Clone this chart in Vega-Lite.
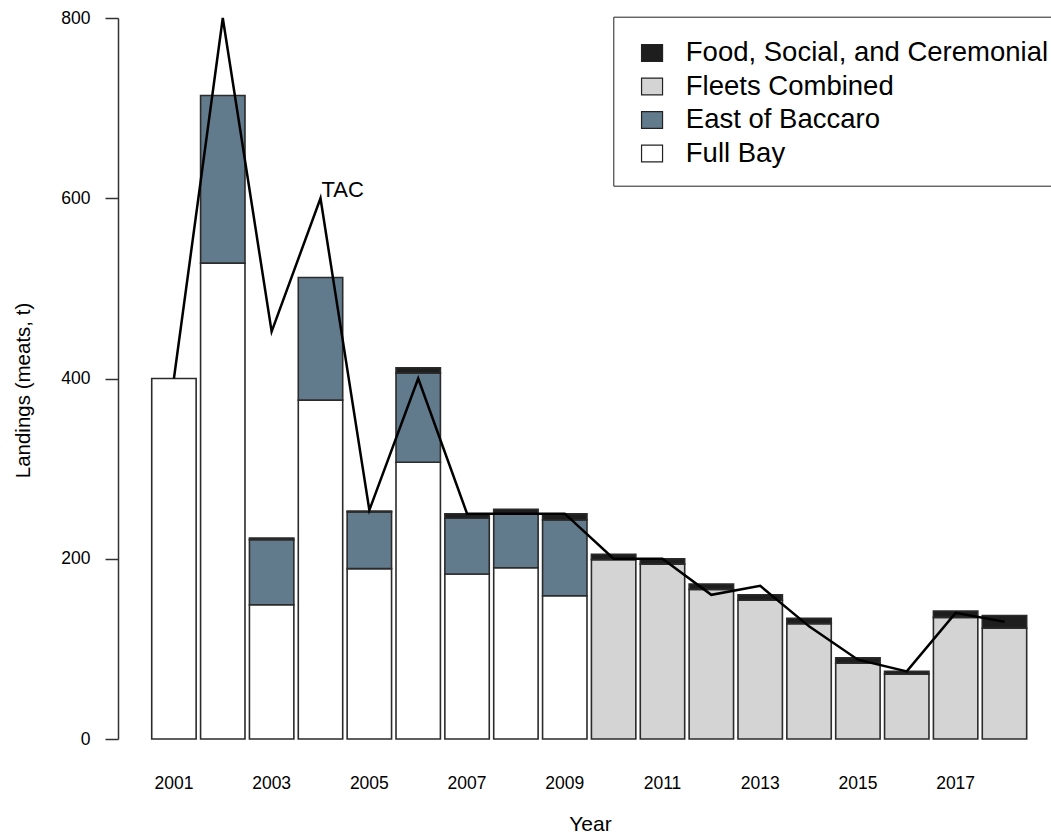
{
  "$schema": "https://vega.github.io/schema/vega-lite/v6.json",
  "width": 933,
  "height": 721,
  "autosize": {"type": "none"},
  "padding": {"left": 118, "top": 18, "right": 0, "bottom": 96},
  "background": "white",
  "config": {
    "view": {"stroke": null},
    "font": "Liberation Sans"
  },
  "datasets": {
    "landings": [
      {"year": 2001, "fishery": "Full Bay", "landings": 400},
      {"year": 2002, "fishery": "Full Bay", "landings": 528},
      {"year": 2002, "fishery": "East of Baccaro", "landings": 186},
      {"year": 2003, "fishery": "Full Bay", "landings": 149},
      {"year": 2003, "fishery": "East of Baccaro", "landings": 72},
      {"year": 2003, "fishery": "Food, Social, and Ceremonial", "landings": 2},
      {"year": 2004, "fishery": "Full Bay", "landings": 376},
      {"year": 2004, "fishery": "East of Baccaro", "landings": 136},
      {"year": 2005, "fishery": "Full Bay", "landings": 189},
      {"year": 2005, "fishery": "East of Baccaro", "landings": 63},
      {"year": 2005, "fishery": "Food, Social, and Ceremonial", "landings": 1},
      {"year": 2006, "fishery": "Full Bay", "landings": 307},
      {"year": 2006, "fishery": "East of Baccaro", "landings": 99},
      {"year": 2006, "fishery": "Food, Social, and Ceremonial", "landings": 6},
      {"year": 2007, "fishery": "Full Bay", "landings": 183},
      {"year": 2007, "fishery": "East of Baccaro", "landings": 62},
      {"year": 2007, "fishery": "Food, Social, and Ceremonial", "landings": 5},
      {"year": 2008, "fishery": "Full Bay", "landings": 190},
      {"year": 2008, "fishery": "East of Baccaro", "landings": 60},
      {"year": 2008, "fishery": "Food, Social, and Ceremonial", "landings": 5},
      {"year": 2009, "fishery": "Full Bay", "landings": 159},
      {"year": 2009, "fishery": "East of Baccaro", "landings": 84},
      {"year": 2009, "fishery": "Food, Social, and Ceremonial", "landings": 7},
      {"year": 2010, "fishery": "Fleets Combined", "landings": 199},
      {"year": 2010, "fishery": "Food, Social, and Ceremonial", "landings": 6},
      {"year": 2011, "fishery": "Fleets Combined", "landings": 194},
      {"year": 2011, "fishery": "Food, Social, and Ceremonial", "landings": 6},
      {"year": 2012, "fishery": "Fleets Combined", "landings": 166},
      {"year": 2012, "fishery": "Food, Social, and Ceremonial", "landings": 6},
      {"year": 2013, "fishery": "Fleets Combined", "landings": 154},
      {"year": 2013, "fishery": "Food, Social, and Ceremonial", "landings": 6},
      {"year": 2014, "fishery": "Fleets Combined", "landings": 128},
      {"year": 2014, "fishery": "Food, Social, and Ceremonial", "landings": 6},
      {"year": 2015, "fishery": "Fleets Combined", "landings": 84},
      {"year": 2015, "fishery": "Food, Social, and Ceremonial", "landings": 6},
      {"year": 2016, "fishery": "Fleets Combined", "landings": 72},
      {"year": 2016, "fishery": "Food, Social, and Ceremonial", "landings": 3},
      {"year": 2017, "fishery": "Fleets Combined", "landings": 135},
      {"year": 2017, "fishery": "Food, Social, and Ceremonial", "landings": 7},
      {"year": 2018, "fishery": "Fleets Combined", "landings": 123},
      {"year": 2018, "fishery": "Food, Social, and Ceremonial", "landings": 14}
    ],
    "tac": [
      {"year": 2001, "TAC": 400},
      {"year": 2002, "TAC": 800},
      {"year": 2003, "TAC": 452},
      {"year": 2004, "TAC": 600},
      {"year": 2005, "TAC": 254},
      {"year": 2006, "TAC": 400},
      {"year": 2007, "TAC": 250},
      {"year": 2008, "TAC": 250},
      {"year": 2009, "TAC": 250},
      {"year": 2010, "TAC": 200},
      {"year": 2011, "TAC": 200},
      {"year": 2012, "TAC": 160},
      {"year": 2013, "TAC": 170},
      {"year": 2014, "TAC": 125},
      {"year": 2015, "TAC": 88},
      {"year": 2016, "TAC": 75},
      {"year": 2017, "TAC": 140},
      {"year": 2018, "TAC": 130}
    ]
  },
  "layer": [
    {
      "data": {"name": "landings"},
      "transform": [
        {
          "calculate": "indexof(['Full Bay', 'East of Baccaro', 'Fleets Combined', 'Food, Social, and Ceremonial'], datum.fishery)",
          "as": "stack_rank"
        }
      ],
      "mark": {"type": "bar", "stroke": "#2b2b2b", "strokeWidth": 1.6, "opacity": 1},
      "encoding": {
        "x": {
          "field": "year",
          "type": "ordinal",
          "scale": {"paddingInner": 0.0909, "paddingOuter": 0.594, "align": 0.581},
          "axis": {
            "title": "Year",
            "values": [2001, 2003, 2005, 2007, 2009, 2011, 2013, 2015, 2017],
            "ticks": false,
            "tickSize": 0,
            "domain": false,
            "grid": false,
            "labelAngle": 0,
            "labelFontSize": 17.5,
            "labelColor": "black",
            "labelBaseline": "alphabetic",
            "labelPadding": 49,
            "titleFontSize": 21,
            "titleFontWeight": "normal",
            "titleColor": "black",
            "titleX": 472,
            "titleY": 91,
            "titleAlign": "center",
            "titleBaseline": "alphabetic"
          }
        },
        "y": {
          "field": "landings",
          "type": "quantitative",
          "stack": "zero",
          "scale": {"domain": [0, 800], "nice": false},
          "axis": {
            "title": "Landings (meats, t)",
            "values": [0, 200, 400, 600, 800],
            "grid": false,
            "domainColor": "#333333",
            "domainWidth": 1.5,
            "tickColor": "#333333",
            "tickWidth": 1.5,
            "tickSize": 13,
            "labelPadding": 15,
            "labelFontSize": 17.5,
            "labelColor": "black",
            "titleFontSize": 20.5,
            "titleFontWeight": "normal",
            "titleColor": "black",
            "titleAngle": -90,
            "titleX": -88.5,
            "titleY": 372,
            "titleAlign": "center",
            "titleBaseline": "alphabetic"
          }
        },
        "order": {"field": "stack_rank", "type": "quantitative", "sort": "ascending"},
        "color": {
          "field": "fishery",
          "type": "nominal",
          "scale": {
            "domain": ["Food, Social, and Ceremonial", "Fleets Combined", "East of Baccaro", "Full Bay"],
            "range": ["#1e1e1e", "#d4d4d4", "#627b8c", "#ffffff"]
          },
          "legend": {
            "orient": "none",
            "legendX": 495.3,
            "legendY": -1.3,
            "title": null,
            "strokeColor": "#222222",
            "fillColor": "white",
            "padding": 18,
            "labelFontSize": 27.5,
            "labelFont": "Liberation Sans",
            "labelColor": "black",
            "labelOffset": 20,
            "labelLimit": 0,
            "symbolType": "M-1,-0.37H1V1.23H-1Z",
            "symbolSize": 441,
            "symbolStrokeColor": "#222222",
            "symbolStrokeWidth": 1.2,
            "symbolOpacity": 1,
            "symbolOffset": 7,
            "rowPadding": 1.5,
            "encode": {
              "labels": {"update": {"dy": {"value": 4.7}}}
            }
          }
        }
      }
    },
    {
      "data": {"name": "tac"},
      "mark": {"type": "line", "color": "black", "strokeWidth": 2.5},
      "encoding": {
        "x": {"field": "year", "type": "ordinal"},
        "y": {"field": "TAC", "type": "quantitative"}
      }
    },
    {
      "data": {"name": "tac"},
      "transform": [{"filter": "datum.year == 2004"}],
      "mark": {"type": "text", "align": "left", "baseline": "alphabetic", "fontSize": 22, "font": "Liberation Sans", "color": "black", "dx": 1, "dy": -1},
      "encoding": {
        "x": {"field": "year", "type": "ordinal"},
        "y": {"field": "TAC", "type": "quantitative"},
        "text": {"value": "TAC"}
      }
    }
  ]
}
